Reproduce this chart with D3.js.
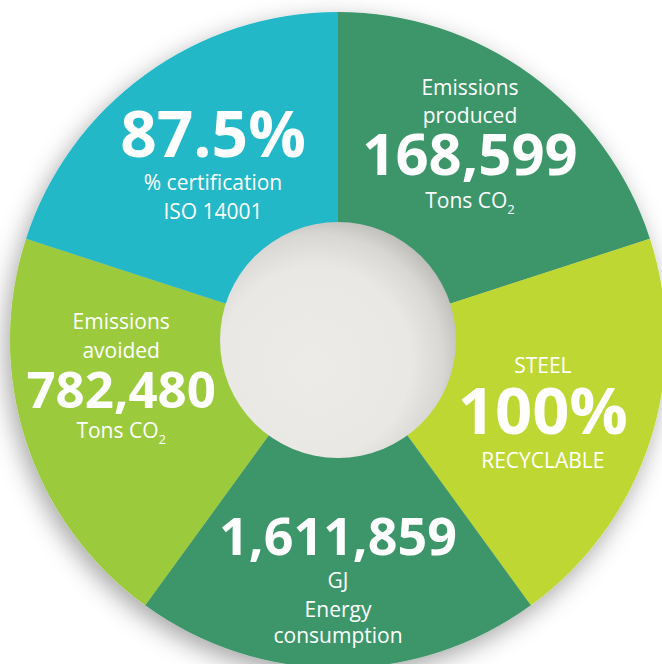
<!DOCTYPE html>
<html>
<head>
<meta charset="utf-8">
<script src="https://cdn.jsdelivr.net/npm/d3@7"></script>
<style>
  body { margin:0; background:#fff; }
  svg { display:block; }
</style>
</head>
<body>
<div id="chart"></div>
<script>
var width = 662, height = 664;

// segments go clockwise from 12 o'clock
var segments = ["produced", "steel", "energy", "avoided", "certification"];
var shares = [1, 1, 1, 1, 1];
var colours = ["#3e966a", "#bed731", "#3e966a", "#9bca3c", "#23b8c7"];

// text lines of each segment: [text, kind]
var texts = {
  produced: [["Emissions", "small"], ["produced", "small"], ["168,599", "big"], ["Tons CO|2", "small"]],
  steel: [["STEEL", "small"], ["100%", "big"], ["RECYCLABLE", "small"]],
  energy: [["1,611,859", "big"], ["GJ", "small"], ["Energy", "small"], ["consumption", "small"]],
  avoided: [["Emissions", "small"], ["avoided", "small"], ["782,480", "big"], ["Tons CO|2", "small"]],
  certification: [["87.5%", "big"], ["% certification", "small"], ["ISO 14001", "small"]]
};

// layout of each text block around the label centroid
var layout = {
  produced:      { dx: -2,  size: 58, dy: [-61, -33, 19, 52] },
  steel:         { dx: -12, size: 65, dy: [-37, 24, 58] },
  energy:        { dx: 0,   size: 52, dy: [-13, 20, 49, 75] },
  avoided:       { dx: 0,   size: 51, dy: [-81, -52, -2, 28] },
  certification: { dx: 9,   size: 64, dy: [1, 34, 63] }
};

var cx = 338, cy = 340, outerR = 328, innerR = 118, labelR = 228;

var svg = d3.select("#chart").append("svg")
    .attr("width", width)
    .attr("height", height);

var defs = svg.append("defs");

var shadow = defs.append("filter")
    .attr("id", "shadow")
    .attr("x", "-20%").attr("y", "-20%")
    .attr("width", "140%").attr("height", "140%");
shadow.append("feDropShadow")
    .attr("dx", -4).attr("dy", 8)
    .attr("stdDeviation", 12)
    .attr("flood-color", "#000")
    .attr("flood-opacity", 0.35);

var ball = defs.append("radialGradient")
    .attr("id", "ball")
    .attr("cx", "42%").attr("cy", "58%").attr("r", "62%")
    .attr("fx", "38%").attr("fy", "62%");
ball.append("stop").attr("offset", "0%").attr("stop-color", "#ecebe7");
ball.append("stop").attr("offset", "65%").attr("stop-color", "#e9e8e4");
ball.append("stop").attr("offset", "86%").attr("stop-color", "#d8d7d4");
ball.append("stop").attr("offset", "100%").attr("stop-color", "#bcbbb8");

var g = svg.append("g")
    .attr("transform", "translate(" + cx + "," + cy + ")");

var pie = d3.pie().sort(null).value(function (d) { return d; });
var arcs = pie(shares);

var arc = d3.arc().innerRadius(innerR - 2).outerRadius(outerR);
var labelArc = d3.arc().innerRadius(labelR).outerRadius(labelR);

var ring = g.append("g").attr("filter", "url(#shadow)");
ring.selectAll(".slice")
    .data(arcs)
    .enter().append("path")
    .attr("class", "slice")
    .attr("d", arc)
    .attr("fill", function (d, i) { return colours[i]; });

g.append("circle")
    .attr("r", innerR)
    .attr("fill", "url(#ball)");

var labels = g.selectAll(".label")
    .data(arcs)
    .enter().append("text")
    .attr("class", "label")
    .attr("text-anchor", "middle")
    .attr("fill", "#fff")
    .attr("font-family", "'Open Sans', sans-serif");

labels.each(function (d, i) {
  var name = segments[i];
  var lay = layout[name];
  var c = labelArc.centroid(d);
  var t = d3.select(this);
  texts[name].forEach(function (line, j) {
    var x = c[0] + lay.dx, y = c[1] + lay.dy[j];
    var parts = line[0].split("|");
    t.append("tspan")
        .attr("x", x)
        .attr("y", y)
        .attr("font-size", line[1] == "big" ? lay.size : 21)
        .attr("font-weight", line[1] == "big" ? 700 : 400)
        .text(parts[0]);
    if (parts[1]) {
      t.append("tspan")
          .attr("dy", 6)
          .attr("font-size", 13)
          .text(parts[1]);
    }
  });
});
</script>
</body>
</html>
